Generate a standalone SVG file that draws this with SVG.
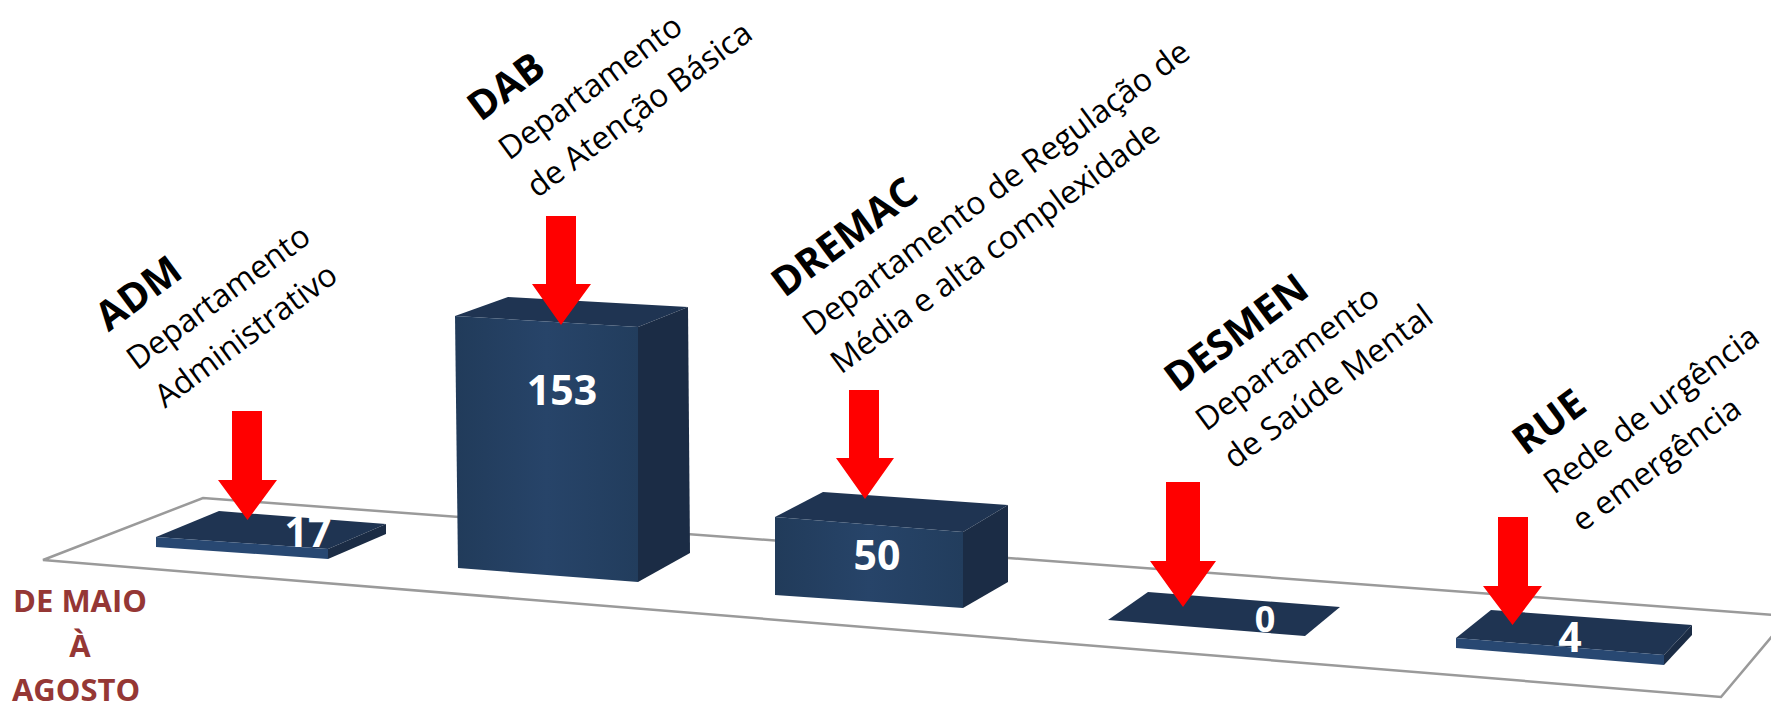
<svg xmlns="http://www.w3.org/2000/svg" width="1771" height="702" viewBox="0 0 1771 702">
<defs>
<linearGradient id="frontGrad" x1="0" y1="0" x2="1" y2="0">
<stop offset="0" stop-color="#213B5A"/>
<stop offset="0.5" stop-color="#274469"/>
<stop offset="1" stop-color="#223D5D"/>
</linearGradient>
</defs>
<style>
.front{fill:url(#frontGrad);}
.top{fill:#1F3452;}
.side{fill:#1B2C45;}
.edge{fill:#284872;}
.arrow{fill:#FF0000;}
.abbr{font-family:"Open Sans","Noto Sans","DejaVu Sans",sans-serif;font-weight:700;font-size:40px;fill:#000;}
.desc{font-family:"Open Sans","Noto Sans","DejaVu Sans",sans-serif;font-weight:400;font-size:32px;fill:#000;}
.val{font-family:"Open Sans","Noto Sans","DejaVu Sans",sans-serif;font-weight:700;font-size:41px;fill:#FFFFFF;text-anchor:middle;}
.period{font-family:"Open Sans","Noto Sans","DejaVu Sans",sans-serif;font-weight:700;font-size:31px;fill:#953735;text-anchor:middle;}
.floor{fill:#FFFFFF;stroke:#9A9A9A;stroke-width:2.5;stroke-linejoin:miter;}
</style>
<rect width="1771" height="702" fill="#FFFFFF"/>
<g id="floor">
<polygon class="floor" points="43,560 203,498 1789,616 1721,697"/>
</g>
<g id="period">
<text class="period" x="80" y="612">DE MAIO</text>
<text class="period" x="80" y="657">À</text>
<text class="period" x="76" y="701">AGOSTO</text>
</g>
<g id="node-adm">
<g transform="translate(137,371) rotate(-36.5)">
<text class="abbr" x="0" y="-48">ADM</text>
<text class="desc" x="0" y="0">Departamento</text>
<text class="desc" x="0" y="47">Administrativo</text>
</g>
<polygon class="top" points="219,511 386,524 328,549 156,537"/>
<polygon class="edge" points="156,537 328,549 328,559 156,547"/>
<polygon class="side" points="328,549 386,524 386,534 328,559"/>
<text class="val" x="308" y="547">17</text>
</g>
<g id="node-dab">
<g transform="translate(509,161) rotate(-36.5)">
<text class="abbr" x="0" y="-48">DAB</text>
<text class="desc" x="0" y="0">Departamento</text>
<text class="desc" x="0" y="47">de Atenção Básica</text>
</g>
<polygon class="top" points="455,316 508,297 688,307 638,327"/>
<polygon class="front" points="455,316 638,327 638,582 458,568"/>
<polygon class="side" points="638,327 688,307 690,553 638,582"/>
<text class="val" x="562" y="405">153</text>
</g>
<g id="node-dremac">
<g transform="translate(813,337) rotate(-36.5)">
<text class="abbr" x="0" y="-48">DREMAC</text>
<text class="desc" x="0" y="0">Departamento de Regulação de</text>
<text class="desc" x="0" y="47">Média e alta complexidade</text>
</g>
<polygon class="top" points="775,517 823,492 1008,505 963,532"/>
<polygon class="front" points="775,517 963,532 963,608 775,595"/>
<polygon class="side" points="963,532 1008,505 1008,582 963,608"/>
<text class="val" x="877" y="570">50</text>
</g>
<g id="node-desmen">
<g transform="translate(1206,432) rotate(-36.5)">
<text class="abbr" x="0" y="-48">DESMEN</text>
<text class="desc" x="0" y="0">Departamento</text>
<text class="desc" x="0" y="47">de Saúde Mental</text>
</g>
<polygon class="top" points="1108,620 1148,592 1340,607 1305,636"/>
<text class="val" x="1265" y="632" style="font-size:36px">0</text>
</g>
<g id="node-rue">
<g transform="translate(1554,495) rotate(-36.5)">
<text class="abbr" x="0" y="-48">RUE</text>
<text class="desc" x="0" y="0">Rede de urgência</text>
<text class="desc" x="0" y="47">e emergência</text>
</g>
<polygon class="top" points="1491,610 1692,625 1664,655 1456,638"/>
<polygon class="edge" points="1456,638 1664,655 1664,665 1456,648"/>
<polygon class="side" points="1664,655 1692,625 1692,635 1664,665"/>
<text class="val" x="1570" y="652">4</text>
</g>
<g id="connectors">
<polygon class="arrow" points="232,411 262,411 262,480 277,480 247.5,520 218,480 232,480"/>
<polygon class="arrow" points="546,216 576,216 576,284 591,284 561,325 532,284 546,284"/>
<polygon class="arrow" points="849,390 879,390 879,458 894,458 865,499 836,458 849,458"/>
<polygon class="arrow" points="1166,482 1200,482 1200,561 1216,561 1183,607 1150,561 1166,561"/>
<polygon class="arrow" points="1498,517 1528,517 1528,586 1542,586 1512.5,625 1483,586 1498,586"/>
</g>
</svg>
